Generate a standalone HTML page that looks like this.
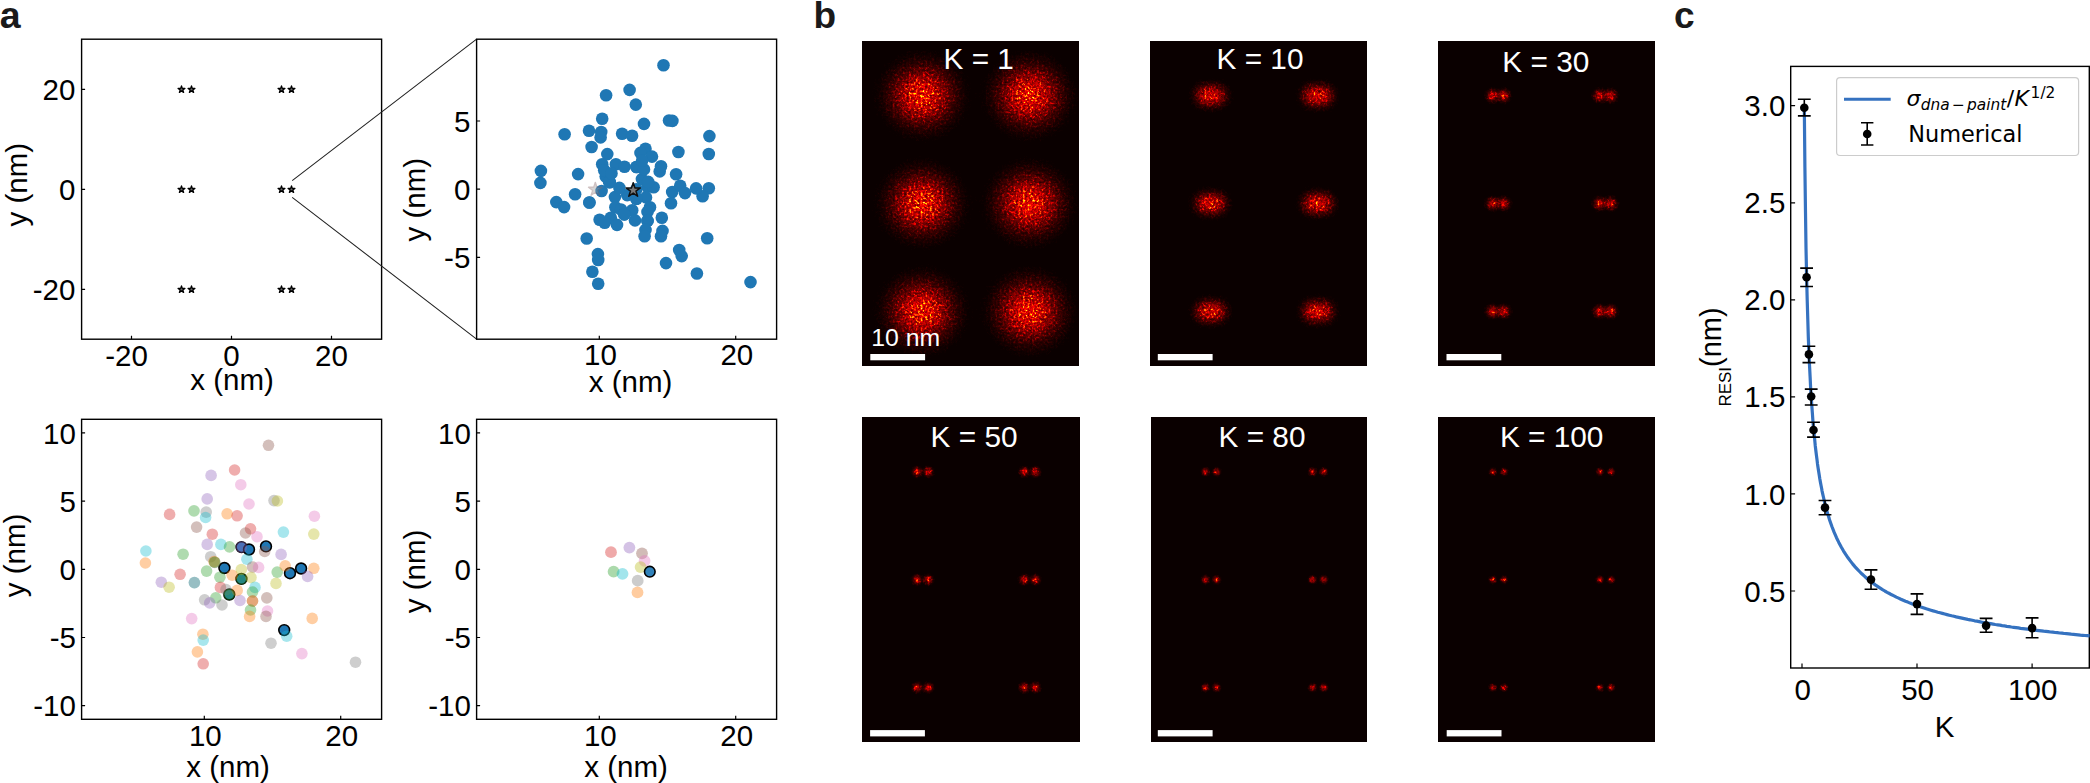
<!DOCTYPE html>
<html lang="en"><head><meta charset="utf-8"><title>RESI simulation figure</title>
<style>html,body{margin:0;padding:0;background:#fff;}body{width:2090px;height:783px;overflow:hidden;}svg{display:block;}text{font-family:"Liberation Sans",sans-serif;fill:#000;}.dj{font-family:"DejaVu Sans",sans-serif;}.lab{font-weight:bold;fill:#1a1a1a;}</style>
</head><body>
<svg width="2090" height="783" viewBox="0 0 2090 783">
<defs><radialGradient id="g1"><stop offset="0" stop-color="#fff" stop-opacity="0.210"/><stop offset="0.1" stop-color="#fff" stop-opacity="0.201"/><stop offset="0.2" stop-color="#fff" stop-opacity="0.175"/><stop offset="0.3" stop-color="#fff" stop-opacity="0.140"/><stop offset="0.4" stop-color="#fff" stop-opacity="0.102"/><stop offset="0.5" stop-color="#fff" stop-opacity="0.068"/><stop offset="0.6" stop-color="#fff" stop-opacity="0.042"/><stop offset="0.7" stop-color="#fff" stop-opacity="0.023"/><stop offset="0.8" stop-color="#fff" stop-opacity="0.012"/><stop offset="0.9" stop-color="#fff" stop-opacity="0.005"/><stop offset="1.0" stop-color="#fff" stop-opacity="0.000"/></radialGradient><radialGradient id="g10"><stop offset="0" stop-color="#fff" stop-opacity="0.240"/><stop offset="0.1" stop-color="#fff" stop-opacity="0.229"/><stop offset="0.2" stop-color="#fff" stop-opacity="0.200"/><stop offset="0.3" stop-color="#fff" stop-opacity="0.160"/><stop offset="0.4" stop-color="#fff" stop-opacity="0.117"/><stop offset="0.5" stop-color="#fff" stop-opacity="0.078"/><stop offset="0.6" stop-color="#fff" stop-opacity="0.047"/><stop offset="0.7" stop-color="#fff" stop-opacity="0.026"/><stop offset="0.8" stop-color="#fff" stop-opacity="0.013"/><stop offset="0.9" stop-color="#fff" stop-opacity="0.006"/><stop offset="1.0" stop-color="#fff" stop-opacity="0.000"/></radialGradient><radialGradient id="g30"><stop offset="0" stop-color="#fff" stop-opacity="0.300"/><stop offset="0.1" stop-color="#fff" stop-opacity="0.287"/><stop offset="0.2" stop-color="#fff" stop-opacity="0.251"/><stop offset="0.3" stop-color="#fff" stop-opacity="0.200"/><stop offset="0.4" stop-color="#fff" stop-opacity="0.146"/><stop offset="0.5" stop-color="#fff" stop-opacity="0.097"/><stop offset="0.6" stop-color="#fff" stop-opacity="0.059"/><stop offset="0.7" stop-color="#fff" stop-opacity="0.033"/><stop offset="0.8" stop-color="#fff" stop-opacity="0.017"/><stop offset="0.9" stop-color="#fff" stop-opacity="0.008"/><stop offset="1.0" stop-color="#fff" stop-opacity="0.000"/></radialGradient><radialGradient id="g50"><stop offset="0" stop-color="#fff" stop-opacity="0.300"/><stop offset="0.1" stop-color="#fff" stop-opacity="0.287"/><stop offset="0.2" stop-color="#fff" stop-opacity="0.251"/><stop offset="0.3" stop-color="#fff" stop-opacity="0.200"/><stop offset="0.4" stop-color="#fff" stop-opacity="0.146"/><stop offset="0.5" stop-color="#fff" stop-opacity="0.097"/><stop offset="0.6" stop-color="#fff" stop-opacity="0.059"/><stop offset="0.7" stop-color="#fff" stop-opacity="0.033"/><stop offset="0.8" stop-color="#fff" stop-opacity="0.017"/><stop offset="0.9" stop-color="#fff" stop-opacity="0.008"/><stop offset="1.0" stop-color="#fff" stop-opacity="0.000"/></radialGradient><radialGradient id="g80"><stop offset="0" stop-color="#fff" stop-opacity="0.290"/><stop offset="0.1" stop-color="#fff" stop-opacity="0.277"/><stop offset="0.2" stop-color="#fff" stop-opacity="0.242"/><stop offset="0.3" stop-color="#fff" stop-opacity="0.193"/><stop offset="0.4" stop-color="#fff" stop-opacity="0.141"/><stop offset="0.5" stop-color="#fff" stop-opacity="0.094"/><stop offset="0.6" stop-color="#fff" stop-opacity="0.057"/><stop offset="0.7" stop-color="#fff" stop-opacity="0.032"/><stop offset="0.8" stop-color="#fff" stop-opacity="0.016"/><stop offset="0.9" stop-color="#fff" stop-opacity="0.008"/><stop offset="1.0" stop-color="#fff" stop-opacity="0.000"/></radialGradient><radialGradient id="g100"><stop offset="0" stop-color="#fff" stop-opacity="0.280"/><stop offset="0.1" stop-color="#fff" stop-opacity="0.268"/><stop offset="0.2" stop-color="#fff" stop-opacity="0.234"/><stop offset="0.3" stop-color="#fff" stop-opacity="0.187"/><stop offset="0.4" stop-color="#fff" stop-opacity="0.136"/><stop offset="0.5" stop-color="#fff" stop-opacity="0.091"/><stop offset="0.6" stop-color="#fff" stop-opacity="0.055"/><stop offset="0.7" stop-color="#fff" stop-opacity="0.031"/><stop offset="0.8" stop-color="#fff" stop-opacity="0.016"/><stop offset="0.9" stop-color="#fff" stop-opacity="0.007"/><stop offset="1.0" stop-color="#fff" stop-opacity="0.000"/></radialGradient><filter id="hot0" filterUnits="userSpaceOnUse" x="862.4" y="41.4" width="216.4" height="324.0" color-interpolation-filters="sRGB"><feTurbulence type="fractalNoise" baseFrequency="0.43" numOctaves="2" seed="3" result="n"/><feComponentTransfer in="n" result="n1"><feFuncR type="gamma" amplitude="4.8" exponent="5" offset="0"/><feFuncG type="linear" slope="1.2" intercept="0.15"/></feComponentTransfer><feColorMatrix in="n1" type="matrix" values="0.5833 0.4167 0 0 0 0.5833 0.4167 0 0 0 0.5833 0.4167 0 0 0 0 0 0 0 1" result="n2"/><feComposite in="SourceGraphic" in2="n2" operator="arithmetic" k1="2.4" k2="0" k3="0" k4="-0.01" result="m0"/><feGaussianBlur in="m0" stdDeviation="0.45" result="m"/><feComponentTransfer in="m"><feFuncR type="table" tableValues="0.042 0.124 0.206 0.288 0.370 0.452 0.534 0.616 0.698 0.780 0.862 0.944 1.000 1.000 1.000 1.000 1.000 1.000 1.000 1.000 1.000 1.000 1.000 1.000 1.000 1.000 1.000 1.000 1.000 1.000 1.000 1.000 1.000"/><feFuncG type="table" tableValues="0.000 0.000 0.000 0.000 0.000 0.000 0.000 0.000 0.000 0.000 0.000 0.000 0.026 0.108 0.190 0.272 0.354 0.436 0.518 0.600 0.682 0.764 0.846 0.928 1.000 1.000 1.000 1.000 1.000 1.000 1.000 1.000 1.000"/><feFuncB type="table" tableValues="0.000 0.000 0.000 0.000 0.000 0.000 0.000 0.000 0.000 0.000 0.000 0.000 0.000 0.000 0.000 0.000 0.000 0.000 0.000 0.000 0.000 0.000 0.000 0.000 0.016 0.139 0.262 0.385 0.508 0.631 0.754 0.877 1.000"/><feFuncA type="linear" slope="0" intercept="1"/></feComponentTransfer></filter><filter id="hot1" filterUnits="userSpaceOnUse" x="1150.9" y="41.4" width="215.3" height="324.0" color-interpolation-filters="sRGB"><feTurbulence type="fractalNoise" baseFrequency="0.43" numOctaves="2" seed="10" result="n"/><feComponentTransfer in="n" result="n1"><feFuncR type="gamma" amplitude="4.8" exponent="5" offset="0"/><feFuncG type="linear" slope="1.2" intercept="0.15"/></feComponentTransfer><feColorMatrix in="n1" type="matrix" values="0.5833 0.4167 0 0 0 0.5833 0.4167 0 0 0 0.5833 0.4167 0 0 0 0 0 0 0 1" result="n2"/><feComposite in="SourceGraphic" in2="n2" operator="arithmetic" k1="2.4" k2="0" k3="0" k4="-0.01" result="m0"/><feGaussianBlur in="m0" stdDeviation="0.45" result="m"/><feComponentTransfer in="m"><feFuncR type="table" tableValues="0.042 0.124 0.206 0.288 0.370 0.452 0.534 0.616 0.698 0.780 0.862 0.944 1.000 1.000 1.000 1.000 1.000 1.000 1.000 1.000 1.000 1.000 1.000 1.000 1.000 1.000 1.000 1.000 1.000 1.000 1.000 1.000 1.000"/><feFuncG type="table" tableValues="0.000 0.000 0.000 0.000 0.000 0.000 0.000 0.000 0.000 0.000 0.000 0.000 0.026 0.108 0.190 0.272 0.354 0.436 0.518 0.600 0.682 0.764 0.846 0.928 1.000 1.000 1.000 1.000 1.000 1.000 1.000 1.000 1.000"/><feFuncB type="table" tableValues="0.000 0.000 0.000 0.000 0.000 0.000 0.000 0.000 0.000 0.000 0.000 0.000 0.000 0.000 0.000 0.000 0.000 0.000 0.000 0.000 0.000 0.000 0.000 0.000 0.016 0.139 0.262 0.385 0.508 0.631 0.754 0.877 1.000"/><feFuncA type="linear" slope="0" intercept="1"/></feComponentTransfer></filter><filter id="hot2" filterUnits="userSpaceOnUse" x="1438.3" y="41.4" width="216.4" height="324.0" color-interpolation-filters="sRGB"><feTurbulence type="fractalNoise" baseFrequency="0.43" numOctaves="2" seed="17" result="n"/><feComponentTransfer in="n" result="n1"><feFuncR type="gamma" amplitude="4.8" exponent="5" offset="0"/><feFuncG type="linear" slope="1.2" intercept="0.15"/></feComponentTransfer><feColorMatrix in="n1" type="matrix" values="0.5833 0.4167 0 0 0 0.5833 0.4167 0 0 0 0.5833 0.4167 0 0 0 0 0 0 0 1" result="n2"/><feComposite in="SourceGraphic" in2="n2" operator="arithmetic" k1="2.4" k2="0" k3="0" k4="-0.01" result="m0"/><feGaussianBlur in="m0" stdDeviation="0.45" result="m"/><feComponentTransfer in="m"><feFuncR type="table" tableValues="0.042 0.124 0.206 0.288 0.370 0.452 0.534 0.616 0.698 0.780 0.862 0.944 1.000 1.000 1.000 1.000 1.000 1.000 1.000 1.000 1.000 1.000 1.000 1.000 1.000 1.000 1.000 1.000 1.000 1.000 1.000 1.000 1.000"/><feFuncG type="table" tableValues="0.000 0.000 0.000 0.000 0.000 0.000 0.000 0.000 0.000 0.000 0.000 0.000 0.026 0.108 0.190 0.272 0.354 0.436 0.518 0.600 0.682 0.764 0.846 0.928 1.000 1.000 1.000 1.000 1.000 1.000 1.000 1.000 1.000"/><feFuncB type="table" tableValues="0.000 0.000 0.000 0.000 0.000 0.000 0.000 0.000 0.000 0.000 0.000 0.000 0.000 0.000 0.000 0.000 0.000 0.000 0.000 0.000 0.000 0.000 0.000 0.000 0.016 0.139 0.262 0.385 0.508 0.631 0.754 0.877 1.000"/><feFuncA type="linear" slope="0" intercept="1"/></feComponentTransfer></filter><filter id="hot3" filterUnits="userSpaceOnUse" x="862.9" y="417.5" width="216.3" height="324.0" color-interpolation-filters="sRGB"><feTurbulence type="fractalNoise" baseFrequency="0.43" numOctaves="2" seed="24" result="n"/><feComponentTransfer in="n" result="n1"><feFuncR type="gamma" amplitude="4.8" exponent="5" offset="0"/><feFuncG type="linear" slope="1.2" intercept="0.15"/></feComponentTransfer><feColorMatrix in="n1" type="matrix" values="0.5833 0.4167 0 0 0 0.5833 0.4167 0 0 0 0.5833 0.4167 0 0 0 0 0 0 0 1" result="n2"/><feComposite in="SourceGraphic" in2="n2" operator="arithmetic" k1="2.4" k2="0" k3="0" k4="-0.01" result="m0"/><feGaussianBlur in="m0" stdDeviation="0.45" result="m"/><feComponentTransfer in="m"><feFuncR type="table" tableValues="0.042 0.124 0.206 0.288 0.370 0.452 0.534 0.616 0.698 0.780 0.862 0.944 1.000 1.000 1.000 1.000 1.000 1.000 1.000 1.000 1.000 1.000 1.000 1.000 1.000 1.000 1.000 1.000 1.000 1.000 1.000 1.000 1.000"/><feFuncG type="table" tableValues="0.000 0.000 0.000 0.000 0.000 0.000 0.000 0.000 0.000 0.000 0.000 0.000 0.026 0.108 0.190 0.272 0.354 0.436 0.518 0.600 0.682 0.764 0.846 0.928 1.000 1.000 1.000 1.000 1.000 1.000 1.000 1.000 1.000"/><feFuncB type="table" tableValues="0.000 0.000 0.000 0.000 0.000 0.000 0.000 0.000 0.000 0.000 0.000 0.000 0.000 0.000 0.000 0.000 0.000 0.000 0.000 0.000 0.000 0.000 0.000 0.000 0.016 0.139 0.262 0.385 0.508 0.631 0.754 0.877 1.000"/><feFuncA type="linear" slope="0" intercept="1"/></feComponentTransfer></filter><filter id="hot4" filterUnits="userSpaceOnUse" x="1151.2" y="417.5" width="215.0" height="324.0" color-interpolation-filters="sRGB"><feTurbulence type="fractalNoise" baseFrequency="0.43" numOctaves="2" seed="31" result="n"/><feComponentTransfer in="n" result="n1"><feFuncR type="gamma" amplitude="4.8" exponent="5" offset="0"/><feFuncG type="linear" slope="1.2" intercept="0.15"/></feComponentTransfer><feColorMatrix in="n1" type="matrix" values="0.5833 0.4167 0 0 0 0.5833 0.4167 0 0 0 0.5833 0.4167 0 0 0 0 0 0 0 1" result="n2"/><feComposite in="SourceGraphic" in2="n2" operator="arithmetic" k1="2.4" k2="0" k3="0" k4="-0.01" result="m0"/><feGaussianBlur in="m0" stdDeviation="0.45" result="m"/><feComponentTransfer in="m"><feFuncR type="table" tableValues="0.042 0.124 0.206 0.288 0.370 0.452 0.534 0.616 0.698 0.780 0.862 0.944 1.000 1.000 1.000 1.000 1.000 1.000 1.000 1.000 1.000 1.000 1.000 1.000 1.000 1.000 1.000 1.000 1.000 1.000 1.000 1.000 1.000"/><feFuncG type="table" tableValues="0.000 0.000 0.000 0.000 0.000 0.000 0.000 0.000 0.000 0.000 0.000 0.000 0.026 0.108 0.190 0.272 0.354 0.436 0.518 0.600 0.682 0.764 0.846 0.928 1.000 1.000 1.000 1.000 1.000 1.000 1.000 1.000 1.000"/><feFuncB type="table" tableValues="0.000 0.000 0.000 0.000 0.000 0.000 0.000 0.000 0.000 0.000 0.000 0.000 0.000 0.000 0.000 0.000 0.000 0.000 0.000 0.000 0.000 0.000 0.000 0.000 0.016 0.139 0.262 0.385 0.508 0.631 0.754 0.877 1.000"/><feFuncA type="linear" slope="0" intercept="1"/></feComponentTransfer></filter><filter id="hot5" filterUnits="userSpaceOnUse" x="1438.6" y="417.5" width="216.2" height="324.0" color-interpolation-filters="sRGB"><feTurbulence type="fractalNoise" baseFrequency="0.43" numOctaves="2" seed="38" result="n"/><feComponentTransfer in="n" result="n1"><feFuncR type="gamma" amplitude="4.8" exponent="5" offset="0"/><feFuncG type="linear" slope="1.2" intercept="0.15"/></feComponentTransfer><feColorMatrix in="n1" type="matrix" values="0.5833 0.4167 0 0 0 0.5833 0.4167 0 0 0 0.5833 0.4167 0 0 0 0 0 0 0 1" result="n2"/><feComposite in="SourceGraphic" in2="n2" operator="arithmetic" k1="2.4" k2="0" k3="0" k4="-0.01" result="m0"/><feGaussianBlur in="m0" stdDeviation="0.45" result="m"/><feComponentTransfer in="m"><feFuncR type="table" tableValues="0.042 0.124 0.206 0.288 0.370 0.452 0.534 0.616 0.698 0.780 0.862 0.944 1.000 1.000 1.000 1.000 1.000 1.000 1.000 1.000 1.000 1.000 1.000 1.000 1.000 1.000 1.000 1.000 1.000 1.000 1.000 1.000 1.000"/><feFuncG type="table" tableValues="0.000 0.000 0.000 0.000 0.000 0.000 0.000 0.000 0.000 0.000 0.000 0.000 0.026 0.108 0.190 0.272 0.354 0.436 0.518 0.600 0.682 0.764 0.846 0.928 1.000 1.000 1.000 1.000 1.000 1.000 1.000 1.000 1.000"/><feFuncB type="table" tableValues="0.000 0.000 0.000 0.000 0.000 0.000 0.000 0.000 0.000 0.000 0.000 0.000 0.000 0.000 0.000 0.000 0.000 0.000 0.000 0.000 0.000 0.000 0.000 0.000 0.016 0.139 0.262 0.385 0.508 0.631 0.754 0.877 1.000"/><feFuncA type="linear" slope="0" intercept="1"/></feComponentTransfer></filter></defs>
<rect width="2090" height="783" fill="#fff"/>
<text class="lab" x="-0.2" y="28.1" font-size="37.5">a</text>
<text class="lab" x="813.4" y="27.8" font-size="37">b</text>
<text class="lab" x="1674.1" y="27.8" font-size="37">c</text>
<rect x="81.6" y="39.2" width="300.0" height="300.0" fill="none" stroke="#000" stroke-width="1.4"/>
<path d="M131.5 339.2v-3.5M231.5 339.2v-3.5M331.5 339.2v-3.5M81.6 89.3h3.5M81.6 189.3h3.5M81.6 289.3h3.5" stroke="#000" stroke-width="1.2" fill="none"/>
<text x="126.6" y="366.2" text-anchor="middle" font-size="29.5" >-20</text>
<text x="231.5" y="366.2" text-anchor="middle" font-size="29.5" >0</text>
<text x="331.5" y="366.2" text-anchor="middle" font-size="29.5" >20</text>
<text x="75.3" y="99.9" text-anchor="end" font-size="29.5" >20</text>
<text x="75.3" y="199.9" text-anchor="end" font-size="29.5" >0</text>
<text x="75.3" y="299.9" text-anchor="end" font-size="29.5" >-20</text>
<text x="232.1" y="389.8" text-anchor="middle" font-size="29.5" >x (nm)</text>
<text transform="translate(27.3,184.7) rotate(-90)" text-anchor="middle" font-size="29.5">y (nm)</text>
<polygon points="181.50,85.90 182.31,88.39 184.92,88.39 182.81,89.92 183.62,92.41 181.50,90.88 179.38,92.41 180.19,89.92 178.08,88.39 180.69,88.39" fill="#666" stroke="#000" stroke-width="1.3" stroke-linejoin="round" opacity="1.0"/>
<polygon points="191.50,85.90 192.31,88.39 194.92,88.39 192.81,89.92 193.62,92.41 191.50,90.88 189.38,92.41 190.19,89.92 188.08,88.39 190.69,88.39" fill="#666" stroke="#000" stroke-width="1.3" stroke-linejoin="round" opacity="1.0"/>
<polygon points="281.50,85.90 282.31,88.39 284.92,88.39 282.81,89.92 283.62,92.41 281.50,90.88 279.38,92.41 280.19,89.92 278.08,88.39 280.69,88.39" fill="#666" stroke="#000" stroke-width="1.3" stroke-linejoin="round" opacity="1.0"/>
<polygon points="291.50,85.90 292.31,88.39 294.92,88.39 292.81,89.92 293.62,92.41 291.50,90.88 289.38,92.41 290.19,89.92 288.08,88.39 290.69,88.39" fill="#666" stroke="#000" stroke-width="1.3" stroke-linejoin="round" opacity="1.0"/>
<polygon points="181.50,185.90 182.31,188.39 184.92,188.39 182.81,189.92 183.62,192.41 181.50,190.88 179.38,192.41 180.19,189.92 178.08,188.39 180.69,188.39" fill="#666" stroke="#000" stroke-width="1.3" stroke-linejoin="round" opacity="1.0"/>
<polygon points="191.50,185.90 192.31,188.39 194.92,188.39 192.81,189.92 193.62,192.41 191.50,190.88 189.38,192.41 190.19,189.92 188.08,188.39 190.69,188.39" fill="#666" stroke="#000" stroke-width="1.3" stroke-linejoin="round" opacity="1.0"/>
<polygon points="281.50,185.90 282.31,188.39 284.92,188.39 282.81,189.92 283.62,192.41 281.50,190.88 279.38,192.41 280.19,189.92 278.08,188.39 280.69,188.39" fill="#666" stroke="#000" stroke-width="1.3" stroke-linejoin="round" opacity="1.0"/>
<polygon points="291.50,185.90 292.31,188.39 294.92,188.39 292.81,189.92 293.62,192.41 291.50,190.88 289.38,192.41 290.19,189.92 288.08,188.39 290.69,188.39" fill="#666" stroke="#000" stroke-width="1.3" stroke-linejoin="round" opacity="1.0"/>
<polygon points="181.50,285.90 182.31,288.39 184.92,288.39 182.81,289.92 183.62,292.41 181.50,290.88 179.38,292.41 180.19,289.92 178.08,288.39 180.69,288.39" fill="#666" stroke="#000" stroke-width="1.3" stroke-linejoin="round" opacity="1.0"/>
<polygon points="191.50,285.90 192.31,288.39 194.92,288.39 192.81,289.92 193.62,292.41 191.50,290.88 189.38,292.41 190.19,289.92 188.08,288.39 190.69,288.39" fill="#666" stroke="#000" stroke-width="1.3" stroke-linejoin="round" opacity="1.0"/>
<polygon points="281.50,285.90 282.31,288.39 284.92,288.39 282.81,289.92 283.62,292.41 281.50,290.88 279.38,292.41 280.19,289.92 278.08,288.39 280.69,288.39" fill="#666" stroke="#000" stroke-width="1.3" stroke-linejoin="round" opacity="1.0"/>
<polygon points="291.50,285.90 292.31,288.39 294.92,288.39 292.81,289.92 293.62,292.41 291.50,290.88 289.38,292.41 290.19,289.92 288.08,288.39 290.69,288.39" fill="#666" stroke="#000" stroke-width="1.3" stroke-linejoin="round" opacity="1.0"/>
<path d="M292.2 180.6L476.6 39.2M292.2 197.3L476.6 339.2" stroke="#222" stroke-width="1.05" fill="none"/>
<rect x="476.6" y="39.2" width="300.0" height="300.0" fill="none" stroke="#000" stroke-width="1.4"/>
<path d="M599.3 339.2v-3.5M735.7 339.2v-3.5M476.6 121.0h3.5M476.6 189.2h3.5M476.6 257.4h3.5" stroke="#000" stroke-width="1.2" fill="none"/>
<text x="600.4" y="365.2" text-anchor="middle" font-size="29.5" >10</text>
<text x="736.8" y="365.2" text-anchor="middle" font-size="29.5" >20</text>
<text x="470.3" y="131.6" text-anchor="end" font-size="29.5" >5</text>
<text x="470.3" y="199.8" text-anchor="end" font-size="29.5" >0</text>
<text x="470.3" y="267.9" text-anchor="end" font-size="29.5" >-5</text>
<text x="630.6" y="392.4" text-anchor="middle" font-size="29.5" >x (nm)</text>
<text transform="translate(424.9,199.7) rotate(-90)" text-anchor="middle" font-size="29.5">y (nm)</text>
<g fill="#1f77b4"><circle cx="663.5" cy="65.2" r="6.3"/><circle cx="629.6" cy="89.9" r="6.3"/><circle cx="606.1" cy="95.3" r="6.3"/><circle cx="635.8" cy="104.6" r="6.3"/><circle cx="602.2" cy="118.8" r="6.3"/><circle cx="644.0" cy="123.9" r="6.3"/><circle cx="669.0" cy="120.5" r="6.3"/><circle cx="672.4" cy="120.9" r="6.3"/><circle cx="564.6" cy="134.3" r="6.3"/><circle cx="589.0" cy="130.8" r="6.3"/><circle cx="601.2" cy="132.0" r="6.3"/><circle cx="600.6" cy="137.4" r="6.3"/><circle cx="622.1" cy="133.7" r="6.3"/><circle cx="632.1" cy="135.7" r="6.3"/><circle cx="591.6" cy="147.0" r="6.3"/><circle cx="645.5" cy="148.7" r="6.3"/><circle cx="607.3" cy="154.1" r="6.3"/><circle cx="640.5" cy="152.9" r="6.3"/><circle cx="678.4" cy="152.0" r="6.3"/><circle cx="652.0" cy="156.6" r="6.3"/><circle cx="602.2" cy="164.3" r="6.3"/><circle cx="615.9" cy="164.3" r="6.3"/><circle cx="624.5" cy="166.8" r="6.3"/><circle cx="636.5" cy="167.0" r="6.3"/><circle cx="659.7" cy="171.4" r="6.3"/><circle cx="676.1" cy="174.3" r="6.3"/><circle cx="540.9" cy="170.9" r="6.3"/><circle cx="540.4" cy="182.9" r="6.3"/><circle cx="578.1" cy="174.1" r="6.3"/><circle cx="605.7" cy="176.6" r="6.3"/><circle cx="609.8" cy="182.3" r="6.3"/><circle cx="609.0" cy="181.4" r="6.3"/><circle cx="641.9" cy="179.1" r="6.3"/><circle cx="647.5" cy="186.9" r="6.3"/><circle cx="653.6" cy="187.3" r="6.3"/><circle cx="601.6" cy="191.0" r="6.3"/><circle cx="575.1" cy="194.2" r="6.3"/><circle cx="556.3" cy="202.1" r="6.3"/><circle cx="564.1" cy="207.1" r="6.3"/><circle cx="589.4" cy="202.5" r="6.3"/><circle cx="589.4" cy="202.5" r="6.3"/><circle cx="636.4" cy="198.8" r="6.3"/><circle cx="672.2" cy="192.0" r="6.3"/><circle cx="680.2" cy="185.7" r="6.3"/><circle cx="614.9" cy="197.1" r="6.3"/><circle cx="627.2" cy="195.1" r="6.3"/><circle cx="636.3" cy="189.4" r="6.3"/><circle cx="646.0" cy="197.4" r="6.3"/><circle cx="671.0" cy="203.3" r="6.3"/><circle cx="650.0" cy="207.3" r="6.3"/><circle cx="615.4" cy="207.3" r="6.3"/><circle cx="621.0" cy="209.5" r="6.3"/><circle cx="632.2" cy="210.3" r="6.3"/><circle cx="647.5" cy="211.9" r="6.3"/><circle cx="610.8" cy="217.7" r="6.3"/><circle cx="599.6" cy="219.7" r="6.3"/><circle cx="604.7" cy="222.8" r="6.3"/><circle cx="617.0" cy="224.9" r="6.3"/><circle cx="635.0" cy="220.4" r="6.3"/><circle cx="647.5" cy="220.9" r="6.3"/><circle cx="647.5" cy="220.9" r="6.3"/><circle cx="661.8" cy="217.8" r="6.3"/><circle cx="645.5" cy="229.9" r="6.3"/><circle cx="644.6" cy="236.3" r="6.3"/><circle cx="662.5" cy="230.9" r="6.3"/><circle cx="661.0" cy="236.3" r="6.3"/><circle cx="586.7" cy="238.5" r="6.3"/><circle cx="597.9" cy="254.1" r="6.3"/><circle cx="598.2" cy="260.0" r="6.3"/><circle cx="592.4" cy="271.8" r="6.3"/><circle cx="598.2" cy="283.7" r="6.3"/><circle cx="681.7" cy="256.1" r="6.3"/><circle cx="666.0" cy="263.1" r="6.3"/><circle cx="708.8" cy="188.2" r="6.3"/><circle cx="702.6" cy="196.3" r="6.3"/><circle cx="709.4" cy="136.1" r="6.3"/><circle cx="708.8" cy="154.0" r="6.3"/><circle cx="707.2" cy="238.3" r="6.3"/><circle cx="696.9" cy="273.5" r="6.3"/><circle cx="750.5" cy="282.1" r="6.3"/><circle cx="624.3" cy="214.4" r="6.3"/><circle cx="609.6" cy="182.1" r="6.3"/><circle cx="636.5" cy="167.0" r="6.3"/><circle cx="644.0" cy="169.4" r="6.3"/><circle cx="661.0" cy="166.3" r="6.3"/><circle cx="619.4" cy="187.9" r="6.3"/><circle cx="636.4" cy="198.8" r="6.3"/><circle cx="685.0" cy="193.1" r="6.3"/><circle cx="696.1" cy="188.4" r="6.3"/><circle cx="679.2" cy="250.0" r="6.3"/><circle cx="624.3" cy="214.4" r="6.3"/><circle cx="604.2" cy="170.2" r="6.3"/><circle cx="642.1" cy="160.7" r="6.3"/><circle cx="648.2" cy="181.9" r="6.3"/><circle cx="611.5" cy="173.4" r="6.3"/></g>
<polygon points="595.32,182.30 596.94,187.27 602.17,187.27 597.94,190.35 599.56,195.32 595.32,192.25 591.09,195.32 592.71,190.35 588.48,187.27 593.71,187.27" fill="#999" stroke="#866" stroke-width="1.3" stroke-linejoin="round" opacity="0.4"/>
<polygon points="633.21,182.70 634.90,187.88 640.35,187.88 635.94,191.08 637.62,196.26 633.21,193.06 628.81,196.26 630.49,191.08 626.08,187.88 631.53,187.88" fill="#7a7a7a" stroke="#111" stroke-width="1.5" stroke-linejoin="round" opacity="1.0"/>
<rect x="81.6" y="419.3" width="300.0" height="300.0" fill="none" stroke="#000" stroke-width="1.4"/>
<path d="M204.3 719.3v-3.5M340.7 719.3v-3.5M81.6 432.9h3.5M81.6 501.1h3.5M81.6 569.3h3.5M81.6 637.5h3.5M81.6 705.7h3.5" stroke="#000" stroke-width="1.2" fill="none"/>
<text x="205.3" y="745.9" text-anchor="middle" font-size="29.5" >10</text>
<text x="341.7" y="745.9" text-anchor="middle" font-size="29.5" >20</text>
<text x="75.9" y="443.5" text-anchor="end" font-size="29.5" >10</text>
<text x="75.9" y="511.7" text-anchor="end" font-size="29.5" >5</text>
<text x="75.9" y="579.9" text-anchor="end" font-size="29.5" >0</text>
<text x="75.9" y="648.0" text-anchor="end" font-size="29.5" >-5</text>
<text x="75.9" y="716.2" text-anchor="end" font-size="29.5" >-10</text>
<text x="228.1" y="776.6" text-anchor="middle" font-size="29.5" >x (nm)</text>
<text transform="translate(24.8,555.4) rotate(-90)" text-anchor="middle" font-size="29.5">y (nm)</text>
<g fill="#1f77b4" stroke="#000" stroke-width="1.6"><circle cx="241.5" cy="547.1" r="5.4"/><circle cx="249.0" cy="549.5" r="5.4"/><circle cx="266.0" cy="546.4" r="5.4"/><circle cx="224.4" cy="568.0" r="5.4"/><circle cx="241.4" cy="578.9" r="5.4"/><circle cx="290.0" cy="573.2" r="5.4"/><circle cx="301.1" cy="568.5" r="5.4"/><circle cx="284.2" cy="630.1" r="5.4"/><circle cx="229.3" cy="594.5" r="5.4"/></g>
<g fill-opacity="0.38"><circle cx="268.5" cy="445.3" r="5.8" fill="#8c564b"/><circle cx="234.6" cy="470.0" r="5.8" fill="#d62728"/><circle cx="211.1" cy="475.4" r="5.8" fill="#9467bd"/><circle cx="240.8" cy="484.7" r="5.8" fill="#e377c2"/><circle cx="207.2" cy="498.9" r="5.8" fill="#9467bd"/><circle cx="249.0" cy="504.0" r="5.8" fill="#e377c2"/><circle cx="274.0" cy="500.6" r="5.8" fill="#7f7f7f"/><circle cx="277.4" cy="501.0" r="5.8" fill="#bcbd22"/><circle cx="169.6" cy="514.4" r="5.8" fill="#d62728"/><circle cx="194.0" cy="510.9" r="5.8" fill="#2ca02c"/><circle cx="206.2" cy="512.1" r="5.8" fill="#7f7f7f"/><circle cx="205.6" cy="517.5" r="5.8" fill="#17becf"/><circle cx="227.1" cy="513.8" r="5.8" fill="#ff7f0e"/><circle cx="237.1" cy="515.8" r="5.8" fill="#d62728"/><circle cx="196.6" cy="527.1" r="5.8" fill="#8c564b"/><circle cx="250.5" cy="528.8" r="5.8" fill="#d62728"/><circle cx="212.3" cy="534.2" r="5.8" fill="#d62728"/><circle cx="245.5" cy="533.0" r="5.8" fill="#8c564b"/><circle cx="283.4" cy="532.1" r="5.8" fill="#17becf"/><circle cx="257.0" cy="536.7" r="5.8" fill="#e377c2"/><circle cx="207.2" cy="544.4" r="5.8" fill="#9467bd"/><circle cx="220.9" cy="544.4" r="5.8" fill="#17becf"/><circle cx="229.5" cy="546.9" r="5.8" fill="#2ca02c"/><circle cx="241.5" cy="547.1" r="5.8" fill="#9467bd"/><circle cx="264.7" cy="551.5" r="5.8" fill="#8c564b"/><circle cx="281.1" cy="554.4" r="5.8" fill="#9467bd"/><circle cx="145.9" cy="551.0" r="5.8" fill="#17becf"/><circle cx="145.4" cy="563.0" r="5.8" fill="#ff7f0e"/><circle cx="183.1" cy="554.2" r="5.8" fill="#2ca02c"/><circle cx="210.7" cy="556.7" r="5.8" fill="#7f7f7f"/><circle cx="214.8" cy="562.4" r="5.8" fill="#8c564b"/><circle cx="214.0" cy="561.5" r="5.8" fill="#ff7f0e"/><circle cx="246.9" cy="559.2" r="5.8" fill="#17becf"/><circle cx="252.5" cy="567.0" r="5.8" fill="#8c564b"/><circle cx="258.6" cy="567.4" r="5.8" fill="#e377c2"/><circle cx="206.6" cy="571.1" r="5.8" fill="#2ca02c"/><circle cx="180.1" cy="574.3" r="5.8" fill="#d62728"/><circle cx="161.3" cy="582.2" r="5.8" fill="#9467bd"/><circle cx="169.1" cy="587.2" r="5.8" fill="#bcbd22"/><circle cx="194.4" cy="582.6" r="5.8" fill="#17becf"/><circle cx="194.4" cy="582.6" r="5.8" fill="#7f7f7f"/><circle cx="241.4" cy="578.9" r="5.8" fill="#2ca02c"/><circle cx="277.2" cy="572.1" r="5.8" fill="#2ca02c"/><circle cx="285.2" cy="565.8" r="5.8" fill="#ff7f0e"/><circle cx="219.9" cy="577.2" r="5.8" fill="#2ca02c"/><circle cx="232.2" cy="575.2" r="5.8" fill="#ff7f0e"/><circle cx="241.3" cy="569.5" r="5.8" fill="#bcbd22"/><circle cx="251.0" cy="577.5" r="5.8" fill="#bcbd22"/><circle cx="276.0" cy="583.4" r="5.8" fill="#bcbd22"/><circle cx="255.0" cy="587.4" r="5.8" fill="#17becf"/><circle cx="220.4" cy="587.4" r="5.8" fill="#d62728"/><circle cx="226.0" cy="589.6" r="5.8" fill="#7f7f7f"/><circle cx="237.2" cy="590.4" r="5.8" fill="#ff7f0e"/><circle cx="252.5" cy="592.0" r="5.8" fill="#2ca02c"/><circle cx="215.8" cy="597.8" r="5.8" fill="#2ca02c"/><circle cx="204.6" cy="599.8" r="5.8" fill="#7f7f7f"/><circle cx="209.7" cy="602.9" r="5.8" fill="#9467bd"/><circle cx="222.0" cy="605.0" r="5.8" fill="#7f7f7f"/><circle cx="240.0" cy="600.5" r="5.8" fill="#9467bd"/><circle cx="252.5" cy="601.0" r="5.8" fill="#8c564b"/><circle cx="252.5" cy="601.0" r="5.8" fill="#ff7f0e"/><circle cx="266.8" cy="597.9" r="5.8" fill="#8c564b"/><circle cx="250.5" cy="610.0" r="5.8" fill="#2ca02c"/><circle cx="249.6" cy="616.4" r="5.8" fill="#ff7f0e"/><circle cx="267.5" cy="611.0" r="5.8" fill="#e377c2"/><circle cx="266.0" cy="616.4" r="5.8" fill="#8c564b"/><circle cx="191.7" cy="618.6" r="5.8" fill="#e377c2"/><circle cx="202.9" cy="634.2" r="5.8" fill="#ff7f0e"/><circle cx="203.2" cy="640.1" r="5.8" fill="#17becf"/><circle cx="197.4" cy="651.9" r="5.8" fill="#ff7f0e"/><circle cx="203.2" cy="663.8" r="5.8" fill="#d62728"/><circle cx="286.7" cy="636.2" r="5.8" fill="#17becf"/><circle cx="271.0" cy="643.2" r="5.8" fill="#7f7f7f"/><circle cx="313.8" cy="568.3" r="5.8" fill="#ff7f0e"/><circle cx="307.6" cy="576.4" r="5.8" fill="#9467bd"/><circle cx="314.4" cy="516.2" r="5.8" fill="#e377c2"/><circle cx="313.8" cy="534.1" r="5.8" fill="#bcbd22"/><circle cx="312.2" cy="618.4" r="5.8" fill="#ff7f0e"/><circle cx="301.9" cy="653.6" r="5.8" fill="#e377c2"/><circle cx="355.5" cy="662.2" r="5.8" fill="#7f7f7f"/><circle cx="229.3" cy="594.5" r="5.8" fill="#2ca02c"/><circle cx="214.6" cy="562.2" r="5.8" fill="#2ca02c"/></g>
<rect x="476.6" y="419.3" width="300.0" height="300.0" fill="none" stroke="#000" stroke-width="1.4"/>
<path d="M599.3 719.3v-3.5M735.7 719.3v-3.5M476.6 432.9h3.5M476.6 501.1h3.5M476.6 569.3h3.5M476.6 637.5h3.5M476.6 705.7h3.5" stroke="#000" stroke-width="1.2" fill="none"/>
<text x="600.3" y="745.9" text-anchor="middle" font-size="29.5" >10</text>
<text x="736.7" y="745.9" text-anchor="middle" font-size="29.5" >20</text>
<text x="470.9" y="443.5" text-anchor="end" font-size="29.5" >10</text>
<text x="470.9" y="511.7" text-anchor="end" font-size="29.5" >5</text>
<text x="470.9" y="579.9" text-anchor="end" font-size="29.5" >0</text>
<text x="470.9" y="648.0" text-anchor="end" font-size="29.5" >-5</text>
<text x="470.9" y="716.2" text-anchor="end" font-size="29.5" >-10</text>
<text x="626.1" y="776.6" text-anchor="middle" font-size="29.5" >x (nm)</text>
<text transform="translate(424.9,571.4) rotate(-90)" text-anchor="middle" font-size="29.5">y (nm)</text>
<g fill-opacity="0.4"><circle cx="611.0" cy="552.2" r="5.9" fill="#d62728"/><circle cx="629.4" cy="547.6" r="5.9" fill="#9467bd"/><circle cx="642.0" cy="553.3" r="5.9" fill="#8c564b"/><circle cx="644.6" cy="560.8" r="5.9" fill="#e377c2"/><circle cx="640.6" cy="567.1" r="5.9" fill="#bcbd22"/><circle cx="613.6" cy="571.7" r="5.9" fill="#2ca02c"/><circle cx="622.5" cy="573.8" r="5.9" fill="#17becf"/><circle cx="637.7" cy="580.7" r="5.9" fill="#7f7f7f"/><circle cx="637.5" cy="592.4" r="5.9" fill="#ff7f0e"/></g>
<circle cx="649.8" cy="571.7" r="5.3" fill="#1f77b4" fill-opacity="0.92" stroke="#000" stroke-width="1.6"/>
<g filter="url(#hot0)"><rect x="862.4" y="41.4" width="216.4" height="324.0" fill="#000"/><circle cx="916.6" cy="95.7" r="51.0" fill="url(#g1)"/><circle cx="927.8" cy="95.7" r="51.0" fill="url(#g1)"/><circle cx="916.6" cy="203.6" r="51.0" fill="url(#g1)"/><circle cx="927.8" cy="203.6" r="51.0" fill="url(#g1)"/><circle cx="916.6" cy="311.5" r="51.0" fill="url(#g1)"/><circle cx="927.8" cy="311.5" r="51.0" fill="url(#g1)"/><circle cx="1023.7" cy="95.7" r="51.0" fill="url(#g1)"/><circle cx="1034.9" cy="95.7" r="51.0" fill="url(#g1)"/><circle cx="1023.7" cy="203.6" r="51.0" fill="url(#g1)"/><circle cx="1034.9" cy="203.6" r="51.0" fill="url(#g1)"/><circle cx="1023.7" cy="311.5" r="51.0" fill="url(#g1)"/><circle cx="1034.9" cy="311.5" r="51.0" fill="url(#g1)"/></g><rect x="870.3" y="354.0" width="54.8" height="6.3" fill="#fff"/><text x="943.5" y="69.0" font-size="29.8" text-anchor="start" style="fill:#fff">K = 1</text><g filter="url(#hot1)"><rect x="1150.9" y="41.4" width="215.3" height="324.0" fill="#000"/><circle cx="1205.1" cy="95.7" r="19.8" fill="url(#g10)"/><circle cx="1216.3" cy="95.7" r="19.8" fill="url(#g10)"/><circle cx="1205.1" cy="203.6" r="19.8" fill="url(#g10)"/><circle cx="1216.3" cy="203.6" r="19.8" fill="url(#g10)"/><circle cx="1205.1" cy="311.5" r="19.8" fill="url(#g10)"/><circle cx="1216.3" cy="311.5" r="19.8" fill="url(#g10)"/><circle cx="1312.2" cy="95.7" r="19.8" fill="url(#g10)"/><circle cx="1323.4" cy="95.7" r="19.8" fill="url(#g10)"/><circle cx="1312.2" cy="203.6" r="19.8" fill="url(#g10)"/><circle cx="1323.4" cy="203.6" r="19.8" fill="url(#g10)"/><circle cx="1312.2" cy="311.5" r="19.8" fill="url(#g10)"/><circle cx="1323.4" cy="311.5" r="19.8" fill="url(#g10)"/></g><rect x="1157.8" y="354.0" width="54.8" height="6.3" fill="#fff"/><text x="1216.5" y="68.7" font-size="29.8" text-anchor="start" style="fill:#fff">K = 10</text><g filter="url(#hot2)"><rect x="1438.3" y="41.4" width="216.4" height="324.0" fill="#000"/><circle cx="1492.5" cy="95.7" r="10.2" fill="url(#g30)"/><circle cx="1503.7" cy="95.7" r="10.2" fill="url(#g30)"/><circle cx="1492.5" cy="203.6" r="10.2" fill="url(#g30)"/><circle cx="1503.7" cy="203.6" r="10.2" fill="url(#g30)"/><circle cx="1492.5" cy="311.5" r="10.2" fill="url(#g30)"/><circle cx="1503.7" cy="311.5" r="10.2" fill="url(#g30)"/><circle cx="1599.6" cy="95.7" r="10.2" fill="url(#g30)"/><circle cx="1610.8" cy="95.7" r="10.2" fill="url(#g30)"/><circle cx="1599.6" cy="203.6" r="10.2" fill="url(#g30)"/><circle cx="1610.8" cy="203.6" r="10.2" fill="url(#g30)"/><circle cx="1599.6" cy="311.5" r="10.2" fill="url(#g30)"/><circle cx="1610.8" cy="311.5" r="10.2" fill="url(#g30)"/></g><rect x="1446.5" y="354.0" width="54.8" height="6.3" fill="#fff"/><text x="1502.3" y="72.0" font-size="29.8" text-anchor="start" style="fill:#fff">K = 30</text><g filter="url(#hot3)"><rect x="862.9" y="417.5" width="216.3" height="324.0" fill="#000"/><circle cx="917.1" cy="471.8" r="7.8" fill="url(#g50)"/><circle cx="928.3" cy="471.8" r="7.8" fill="url(#g50)"/><circle cx="917.1" cy="579.7" r="7.8" fill="url(#g50)"/><circle cx="928.3" cy="579.7" r="7.8" fill="url(#g50)"/><circle cx="917.1" cy="687.6" r="7.8" fill="url(#g50)"/><circle cx="928.3" cy="687.6" r="7.8" fill="url(#g50)"/><circle cx="1024.2" cy="471.8" r="7.8" fill="url(#g50)"/><circle cx="1035.4" cy="471.8" r="7.8" fill="url(#g50)"/><circle cx="1024.2" cy="579.7" r="7.8" fill="url(#g50)"/><circle cx="1035.4" cy="579.7" r="7.8" fill="url(#g50)"/><circle cx="1024.2" cy="687.6" r="7.8" fill="url(#g50)"/><circle cx="1035.4" cy="687.6" r="7.8" fill="url(#g50)"/></g><rect x="870.1" y="730.1" width="54.8" height="6.3" fill="#fff"/><text x="930.6" y="446.8" font-size="29.8" text-anchor="start" style="fill:#fff">K = 50</text><g filter="url(#hot4)"><rect x="1151.2" y="417.5" width="215.0" height="324.0" fill="#000"/><circle cx="1205.4" cy="471.8" r="6.3" fill="url(#g80)"/><circle cx="1216.6" cy="471.8" r="6.3" fill="url(#g80)"/><circle cx="1205.4" cy="579.7" r="6.3" fill="url(#g80)"/><circle cx="1216.6" cy="579.7" r="6.3" fill="url(#g80)"/><circle cx="1205.4" cy="687.6" r="6.3" fill="url(#g80)"/><circle cx="1216.6" cy="687.6" r="6.3" fill="url(#g80)"/><circle cx="1312.5" cy="471.8" r="6.3" fill="url(#g80)"/><circle cx="1323.7" cy="471.8" r="6.3" fill="url(#g80)"/><circle cx="1312.5" cy="579.7" r="6.3" fill="url(#g80)"/><circle cx="1323.7" cy="579.7" r="6.3" fill="url(#g80)"/><circle cx="1312.5" cy="687.6" r="6.3" fill="url(#g80)"/><circle cx="1323.7" cy="687.6" r="6.3" fill="url(#g80)"/></g><rect x="1157.8" y="730.1" width="54.8" height="6.3" fill="#fff"/><text x="1218.5" y="446.5" font-size="29.8" text-anchor="start" style="fill:#fff">K = 80</text><g filter="url(#hot5)"><rect x="1438.6" y="417.5" width="216.2" height="324.0" fill="#000"/><circle cx="1492.8" cy="471.8" r="5.7" fill="url(#g100)"/><circle cx="1504.0" cy="471.8" r="5.7" fill="url(#g100)"/><circle cx="1492.8" cy="579.7" r="5.7" fill="url(#g100)"/><circle cx="1504.0" cy="579.7" r="5.7" fill="url(#g100)"/><circle cx="1492.8" cy="687.6" r="5.7" fill="url(#g100)"/><circle cx="1504.0" cy="687.6" r="5.7" fill="url(#g100)"/><circle cx="1599.9" cy="471.8" r="5.7" fill="url(#g100)"/><circle cx="1611.1" cy="471.8" r="5.7" fill="url(#g100)"/><circle cx="1599.9" cy="579.7" r="5.7" fill="url(#g100)"/><circle cx="1611.1" cy="579.7" r="5.7" fill="url(#g100)"/><circle cx="1599.9" cy="687.6" r="5.7" fill="url(#g100)"/><circle cx="1611.1" cy="687.6" r="5.7" fill="url(#g100)"/></g><rect x="1446.7" y="730.1" width="54.8" height="6.3" fill="#fff"/><text x="1499.9" y="447.2" font-size="29.8" text-anchor="start" style="fill:#fff">K = 100</text><text x="871.2" y="345.9" font-size="24.8" style="fill:#fff">10 nm</text>
<rect x="1790.7" y="66.4" width="298.6" height="601.6" fill="none" stroke="#000" stroke-width="1.4"/>
<path d="M1802.0 668.0v-4.4M1917.0 668.0v-4.4M2032.1 668.0v-4.4M1790.7 591.0h4.4M1790.7 493.9h4.4M1790.7 396.9h4.4M1790.7 299.8h4.4M1790.7 202.8h4.4M1790.7 105.7h4.4" stroke="#000" stroke-width="1.2" fill="none"/>
<text x="1802.6" y="699.6" text-anchor="middle" font-size="29.5" >0</text>
<text x="1917.6" y="699.6" text-anchor="middle" font-size="29.5" >50</text>
<text x="2032.7" y="699.6" text-anchor="middle" font-size="29.5" >100</text>
<text x="1785.3" y="601.5" text-anchor="end" font-size="29.5" >0.5</text>
<text x="1785.3" y="504.5" text-anchor="end" font-size="29.5" >1.0</text>
<text x="1785.3" y="407.4" text-anchor="end" font-size="29.5" >1.5</text>
<text x="1785.3" y="310.4" text-anchor="end" font-size="29.5" >2.0</text>
<text x="1785.3" y="213.3" text-anchor="end" font-size="29.5" >2.5</text>
<text x="1785.3" y="116.3" text-anchor="end" font-size="29.5" >3.0</text>
<text x="1944.5" y="736.8" text-anchor="middle" font-size="29.5" >K</text>
<text transform="translate(1721.2,406.6) rotate(-90)" text-anchor="start" font-size="29"><tspan font-size="17" dy="9.7">RESI</tspan><tspan dy="-9.7">(nm)</tspan></text>
<polyline points="1804.3,105.7 1804.9,167.2 1805.5,212.6 1806.0,247.8 1806.6,276.3 1807.2,299.8 1807.8,319.7 1808.3,336.9 1808.9,351.8 1809.5,365.0 1810.1,376.7 1810.6,387.3 1811.2,396.9 1811.8,405.5 1812.4,413.5 1812.9,420.8 1813.5,427.6 1814.1,433.9 1814.7,439.7 1815.2,445.2 1815.8,450.3 1816.4,455.1 1817.0,459.6 1817.5,463.9 1818.1,467.9 1818.7,471.7 1819.3,475.4 1819.8,478.8 1820.4,482.1 1821.0,485.3 1821.6,488.3 1822.1,491.1 1822.7,493.9 1823.3,496.5 1823.9,499.1 1824.4,501.5 1825.0,503.9 1825.6,506.1 1826.2,508.3 1826.7,510.4 1827.3,512.4 1827.9,514.4 1828.5,516.3 1829.0,518.1 1829.6,519.9 1831.9,526.5 1834.2,532.4 1836.5,537.7 1838.8,542.4 1841.1,546.8 1843.4,550.8 1845.7,554.4 1848.0,557.8 1850.3,560.9 1852.6,563.9 1854.9,566.6 1857.2,569.1 1859.5,571.5 1861.8,573.8 1864.1,575.9 1866.4,578.0 1868.7,579.9 1871.0,581.7 1873.3,583.4 1875.6,585.1 1877.9,586.6 1880.2,588.1 1882.5,589.6 1884.8,591.0 1887.1,592.3 1889.4,593.5 1891.7,594.8 1894.0,595.9 1896.3,597.1 1898.6,598.1 1900.9,599.2 1903.2,600.2 1905.5,601.2 1907.8,602.1 1910.1,603.1 1912.4,604.0 1914.7,604.8 1917.0,605.7 1919.4,606.5 1921.7,607.2 1924.0,608.0 1926.3,608.8 1928.6,609.5 1930.9,610.2 1933.2,610.9 1935.5,611.5 1937.8,612.2 1940.1,612.8 1942.4,613.4 1944.7,614.0 1947.0,614.6 1949.3,615.2 1951.6,615.8 1953.9,616.3 1956.2,616.9 1958.5,617.4 1960.8,617.9 1963.1,618.4 1965.4,618.9 1967.7,619.4 1970.0,619.8 1972.3,620.3 1974.6,620.8 1976.9,621.2 1979.2,621.6 1981.5,622.1 1983.8,622.5 1986.1,622.9 1988.4,623.3 1990.7,623.7 1993.0,624.1 1995.3,624.5 1997.6,624.8 1999.9,625.2 2002.2,625.6 2004.5,625.9 2006.8,626.3 2009.1,626.6 2011.4,627.0 2013.7,627.3 2016.0,627.6 2018.3,627.9 2020.6,628.3 2022.9,628.6 2025.2,628.9 2027.5,629.2 2029.8,629.5 2032.1,629.8 2034.4,630.1 2036.7,630.3 2039.0,630.6 2041.3,630.9 2043.6,631.2 2045.9,631.4 2048.2,631.7 2050.5,632.0 2052.8,632.2 2055.1,632.5 2057.4,632.7 2059.7,633.0 2062.0,633.2 2064.3,633.5 2066.6,633.7 2068.9,633.9 2071.2,634.2 2073.5,634.4 2075.8,634.6 2078.1,634.8 2080.4,635.1 2082.7,635.3 2085.0,635.5 2087.3,635.7 2089.6,635.9" fill="none" stroke="#3572c0" stroke-width="3.2" stroke-linejoin="round"/>
<path d="M1804.3 99.3V115.9M1797.9 99.3h12.8M1797.9 115.9h12.8M1806.6 268.1V286.5M1800.2 268.1h12.8M1800.2 286.5h12.8M1808.9 346.3V362.6M1802.5 346.3h12.8M1802.5 362.6h12.8M1811.2 389.1V405.0M1804.8 389.1h12.8M1804.8 405.0h12.8M1813.5 422.3V437.1M1807.1 422.3h12.8M1807.1 437.1h12.8M1825.0 500.5V514.8M1818.6 500.5h12.8M1818.6 514.8h12.8M1871.0 569.9V589.3M1864.6 569.9h12.8M1864.6 589.3h12.8M1917.0 593.9V614.4M1910.6 593.9h12.8M1910.6 614.4h12.8M1986.1 618.4V632.2M1979.7 618.4h12.8M1979.7 632.2h12.8M2032.1 617.9V637.8M2025.7 617.9h12.8M2025.7 637.8h12.8" stroke="#000" stroke-width="1.6" fill="none"/>
<g fill="#000"><circle cx="1804.3" cy="107.7" r="4.3"/><circle cx="1806.6" cy="277.3" r="4.3"/><circle cx="1808.9" cy="354.4" r="4.3"/><circle cx="1811.2" cy="396.5" r="4.3"/><circle cx="1813.5" cy="430.0" r="4.3"/><circle cx="1825.0" cy="507.6" r="4.3"/><circle cx="1871.0" cy="579.6" r="4.3"/><circle cx="1917.0" cy="604.1" r="4.3"/><circle cx="1986.1" cy="625.6" r="4.3"/><circle cx="2032.1" cy="628.1" r="4.3"/></g>
<rect x="1836.6" y="77.6" width="242" height="77.9" rx="3.5" fill="#fff" fill-opacity="0.8" stroke="#ccc" stroke-width="1.2"/>
<path d="M1844 99.3H1890.7" stroke="#3572c0" stroke-width="3"/>
<path d="M1867.2 122.8V145M1861 122.8h12.4M1861 145h12.4" stroke="#000" stroke-width="1.6" fill="none"/>
<circle cx="1867.2" cy="134" r="4.3" fill="#000"/>
<text class="dj" y="105.7" font-size="22" text-anchor="start"><tspan x="1906.6" font-style="italic">σ</tspan><tspan x="1920.8" font-style="italic" font-size="15.4" dy="4.2">dna</tspan><tspan font-style="italic" font-size="15.4" dx="2.2">−</tspan><tspan font-style="italic" font-size="15.4" dx="2.2">paint</tspan><tspan x="2006.8" dy="-4.2">/</tspan><tspan x="2014.6" font-style="italic">K</tspan><tspan x="2030.6" font-size="15.4" dy="-8">1/2</tspan></text>
<text class="dj" x="1908.2" y="142.2" font-size="22.4" text-anchor="start">Numerical</text>
</svg></body></html>
